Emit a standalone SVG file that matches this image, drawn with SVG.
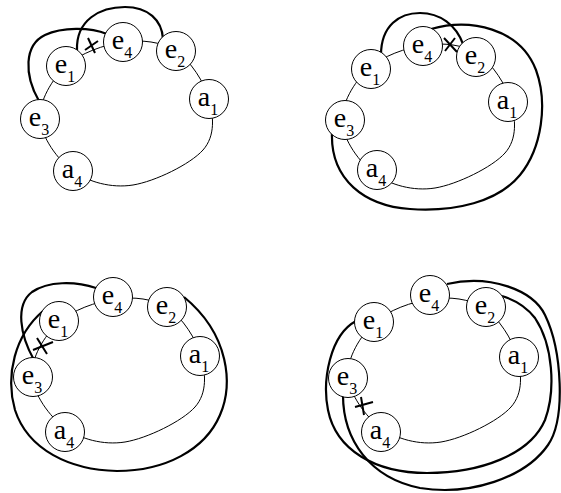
<svg xmlns="http://www.w3.org/2000/svg" width="561" height="493" viewBox="0 0 561 493">
<style>
.ring{fill:none;stroke:#000;stroke-width:1}
.thick{fill:none;stroke:#000;stroke-width:2.2}
.x{stroke:#000;stroke-width:2;fill:none}
.node circle{fill:#fff;stroke:#000;stroke-width:1}
.node text{font-family:"Liberation Serif","Times New Roman",serif;font-size:28px;text-anchor:middle;fill:#000}
.sub{font-size:16px}
</style>
<defs>
<path id="ring" d="M66,66 C79.8,53.2 104.7,44.5 123,42 C141.3,39.5 161.7,41.5 176,51 C190.3,60.5 204.5,82.5 209,99 C213.5,115.5 215.7,135.7 203,150 C190.3,164.3 154.7,181.5 133,185 C111.3,188.5 88.5,182 73,171 C57.5,160 41.2,136.5 40,119 C38.8,101.5 52.2,78.8 66,66 Z"/>
</defs>
<rect width="561" height="493" fill="#fff"/>
<g id="connectors">
<!-- panel 1 -->
<use href="#ring" class="ring"/>
<path class="thick" d="M39,101 C24,75 24,45 45,35 C62,27 90,27 107,34"/>
<path class="thick" d="M77,50 C76,20 100,7 125,7 C148,7 162,20 163,39"/>
<path class="x" d="M88,38 L95,53 M85,50 L98,41"/>
<!-- panel 2 -->
<use href="#ring" class="ring" transform="translate(302,3)"/>
<path class="thick" d="M381,55 C381,25 400,13 420,13 C440,13 456,25 463,44"/>
<path class="thick" d="M431,29 C470,18 520,28 536,70 C548,103 542,148 520,175 C498,202 455,212 410,209 C365,206 330,180 332,132"/>
<path class="x" d="M444,38 L457,52 M445,51 L455,38"/>
<!-- panel 3 -->
<use href="#ring" class="ring" transform="translate(-8,257)"/>
<path class="thick" d="M34,360 C20,335 15,305 32,292 C48,281 75,281 96,288"/>
<path class="thick" d="M43,311 C15,335 5,375 15,410 C28,450 70,470 117,471 C165,471 205,450 220,415 C233,385 230,335 184,297"/>
<path class="x" d="M37,338 L47,354 M33,350 L53,342"/>
<!-- panel 4 -->
<use href="#ring" class="ring" transform="translate(308,257)"/>
<path class="thick" d="M356,321 C330,335 322,380 328,410 C336,450 375,473 427,473 C480,473 530,455 545,420 C556,390 553,345 535,318 C525,305 512,299 502,296"/>
<path class="thick" d="M343,395 C343,440 370,478 420,488 C470,496 525,478 548,445 C566,419 562,350 545,315 C533,290 490,274 447,284"/>
<path class="x" d="M361,397 L364,415 M355,407 L373,402"/>
</g>
<!-- panel 1 nodes -->
<g id="p1-e1" class="node"><circle cx="66" cy="66" r="19.5"/><text x="65" y="73">e<tspan class="sub" dy="8.5">1</tspan></text></g>
<g id="p1-e4" class="node"><circle cx="123" cy="42" r="19.5"/><text x="122" y="49">e<tspan class="sub" dy="8.5">4</tspan></text></g>
<g id="p1-e2" class="node"><circle cx="176" cy="51" r="19.5"/><text x="175" y="58">e<tspan class="sub" dy="8.5">2</tspan></text></g>
<g id="p1-a1" class="node"><circle cx="209" cy="99" r="19.5"/><text x="208" y="106">a<tspan class="sub" dy="8.5">1</tspan></text></g>
<g id="p1-e3" class="node"><circle cx="40" cy="119" r="19.5"/><text x="39" y="126">e<tspan class="sub" dy="8.5">3</tspan></text></g>
<g id="p1-a4" class="node"><circle cx="73" cy="171" r="19.5"/><text x="72" y="178">a<tspan class="sub" dy="8.5">4</tspan></text></g>
<!-- panel 2 nodes -->
<g id="p2-e1" class="node"><circle cx="371" cy="69" r="19.5"/><text x="370" y="76">e<tspan class="sub" dy="8.5">1</tspan></text></g>
<g id="p2-e4" class="node"><circle cx="423" cy="46" r="19.5"/><text x="422" y="53">e<tspan class="sub" dy="8.5">4</tspan></text></g>
<g id="p2-e2" class="node"><circle cx="476" cy="57" r="19.5"/><text x="475" y="64">e<tspan class="sub" dy="8.5">2</tspan></text></g>
<g id="p2-a1" class="node"><circle cx="508" cy="102" r="19.5"/><text x="507" y="109">a<tspan class="sub" dy="8.5">1</tspan></text></g>
<g id="p2-e3" class="node"><circle cx="345" cy="120" r="19.5"/><text x="344" y="127">e<tspan class="sub" dy="8.5">3</tspan></text></g>
<g id="p2-a4" class="node"><circle cx="377" cy="170" r="19.5"/><text x="376" y="177">a<tspan class="sub" dy="8.5">4</tspan></text></g>
<!-- panel 3 nodes -->
<g id="p3-e1" class="node"><circle cx="59" cy="321" r="19.5"/><text x="58" y="328">e<tspan class="sub" dy="8.5">1</tspan></text></g>
<g id="p3-e4" class="node"><circle cx="113" cy="297" r="19.5"/><text x="112" y="304">e<tspan class="sub" dy="8.5">4</tspan></text></g>
<g id="p3-e2" class="node"><circle cx="167" cy="307" r="19.5"/><text x="166" y="314">e<tspan class="sub" dy="8.5">2</tspan></text></g>
<g id="p3-a1" class="node"><circle cx="200" cy="356" r="19.5"/><text x="199" y="363">a<tspan class="sub" dy="8.5">1</tspan></text></g>
<g id="p3-e3" class="node"><circle cx="33" cy="377" r="19.5"/><text x="32" y="384">e<tspan class="sub" dy="8.5">3</tspan></text></g>
<g id="p3-a4" class="node"><circle cx="65" cy="432" r="19.5"/><text x="64" y="439">a<tspan class="sub" dy="8.5">4</tspan></text></g>
<!-- panel 4 nodes -->
<g id="p4-e1" class="node"><circle cx="374" cy="322" r="19.5"/><text x="373" y="329">e<tspan class="sub" dy="8.5">1</tspan></text></g>
<g id="p4-e4" class="node"><circle cx="430" cy="295" r="19.5"/><text x="429" y="302">e<tspan class="sub" dy="8.5">4</tspan></text></g>
<g id="p4-e2" class="node"><circle cx="486" cy="307" r="19.5"/><text x="485" y="314">e<tspan class="sub" dy="8.5">2</tspan></text></g>
<g id="p4-a1" class="node"><circle cx="519" cy="357" r="19.5"/><text x="518" y="364">a<tspan class="sub" dy="8.5">1</tspan></text></g>
<g id="p4-e3" class="node"><circle cx="348" cy="378" r="19.5"/><text x="347" y="385">e<tspan class="sub" dy="8.5">3</tspan></text></g>
<g id="p4-a4" class="node"><circle cx="381" cy="432" r="19.5"/><text x="380" y="439">a<tspan class="sub" dy="8.5">4</tspan></text></g>
</svg>
